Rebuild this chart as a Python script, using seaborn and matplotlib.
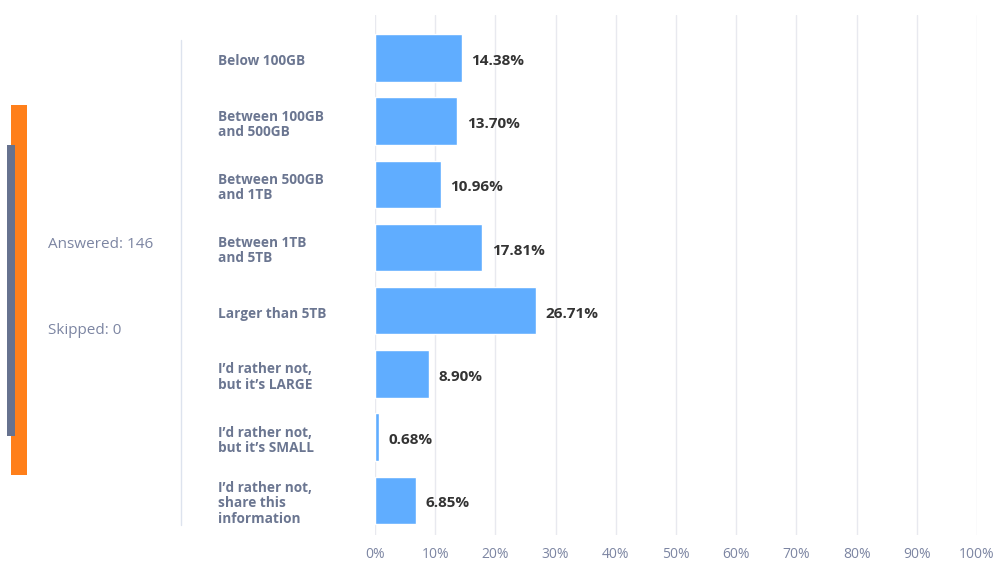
import matplotlib
matplotlib.use("Agg")
import matplotlib.pyplot as plt
import seaborn as sns
import pandas as pd
from matplotlib.patches import Rectangle
from matplotlib.lines import Line2D

categories = [
    "Below 100GB",
    "Between 100GB\nand 500GB",
    "Between 500GB\nand 1TB",
    "Between 1TB\nand 5TB",
    "Larger than 5TB",
    "I\u2019d rather not,\nbut it\u2019s LARGE",
    "I\u2019d rather not,\nbut it\u2019s SMALL",
    "I\u2019d rather not,\nshare this\ninformation",
]
percent = [14.38, 13.70, 10.96, 17.81, 26.71, 8.90, 0.68, 6.85]
ticks = [0, 10, 20, 30, 40, 50, 60, 70, 80, 90, 100]
answered = 146
skipped = 0

df = pd.DataFrame({"Antwort": categories, "Anteil": percent})

sns.set_theme(style="white")
plt.rcParams["font.family"] = ["Open Sans", "DejaVu Sans"]

fig = plt.figure(figsize=(9.96, 5.61), dpi=100)
ax = fig.add_axes([375 / 996, 1 - 535 / 561, 602 / 996, 520 / 561])

sns.barplot(data=df, x="Anteil", y="Antwort", color="#60adff", saturation=1,
            width=0.75, ax=ax, zorder=2)

ax.set_xlim(0, 100)
ax.set_ylim(7.55, -0.68)
ax.set_xticks(ticks)
ax.set_xticklabels([f"{t}%" for t in ticks], color="#7c85a2", fontsize=10)
ax.tick_params(axis="x", length=0, pad=9)
ax.set_yticks([])
ax.set_xlabel("")
ax.set_ylabel("")
for t in ticks:
    ax.axvline(t, color="#e8e9ef", lw=1, zorder=0)
for s in ax.spines.values():
    s.set_visible(False)

# Wertebeschriftungen rechts neben den Balken
for i, v in enumerate(percent):
    ax.text(v + 1.6, i + 0.05, f"{v:.2f}%", va="center", ha="left",
            fontsize=11, fontweight="bold", color="#333333")

# Kategorien links
for i, c in enumerate(categories):
    y = ax.transData.transform((0, i + 0.05))[1]
    fig.text(218 / 996, y / fig.dpi / 5.61, c, va="center", ha="left",
             fontsize=9.8, fontweight="bold", color="#6b7691", linespacing=1.1)

# Trennlinie und Seitenleiste
fig.add_artist(Line2D([181 / 996, 181 / 996], [1 - 40 / 561, 1 - 525 / 561],
                      color="#dde3ee", lw=1))
fig.add_artist(Rectangle((11 / 996, 1 - 475 / 561), 16 / 996, 370 / 561,
                         color="#ff7f1a", lw=0))
fig.add_artist(Rectangle((7 / 996, 1 - 436 / 561), 8 / 996, 291 / 561,
                         color="#66728f", lw=0))
fig.text(48 / 996, 1 - 244 / 561, f"Answered: {answered}", va="center",
         ha="left", fontsize=11, color="#7c85a2")
fig.text(48 / 996, 1 - 331 / 561, f"Skipped: {skipped}", va="center",
         ha="left", fontsize=11, color="#7c85a2")

fig.savefig("out.png", dpi=100)
